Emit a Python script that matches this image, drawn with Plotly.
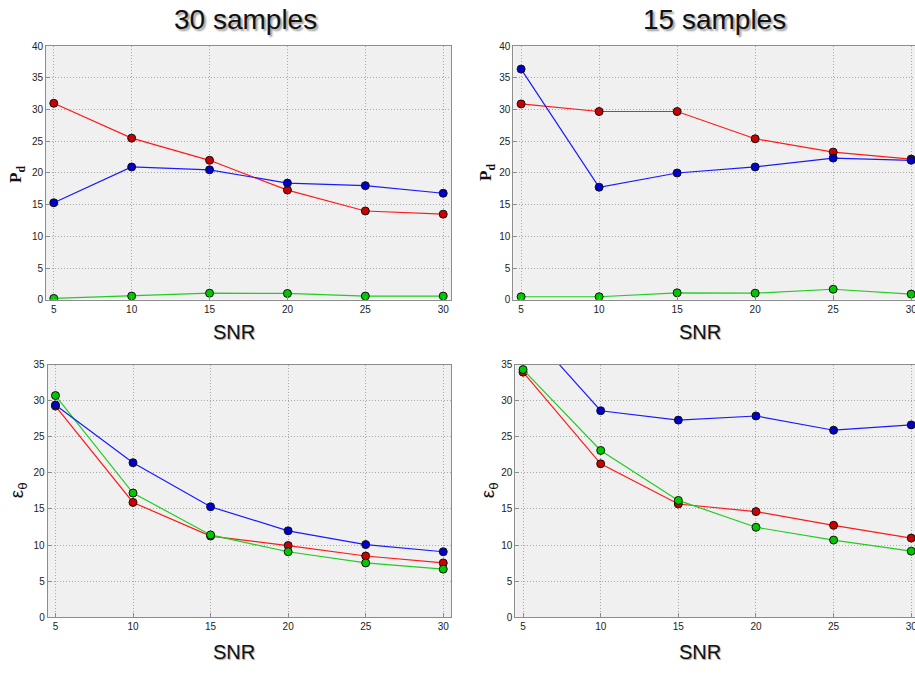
import plotly.graph_objects as go

snr = [5, 10, 15, 20, 25, 30]
x_ticks = [5, 10, 15, 20, 25, 30]

# Pd, 30 samples
pd30_red = [31.0, 25.5, 22.0, 17.3, 14.0, 13.5]
pd30_blue = [15.3, 20.95, 20.5, 18.4, 18.0, 16.8]
pd30_green = [0.2, 0.57, 1.03, 0.98, 0.57, 0.57]
# Pd, 15 samples
pd15_red = [30.9, 29.7, 29.7, 25.4, 23.3, 22.2]
pd15_blue = [36.4, 17.75, 20.0, 20.95, 22.35, 22.0]
pd15_green = [0.46, 0.46, 1.08, 1.03, 1.65, 0.88]
# eps_theta, 30 samples
e30_red = [29.24, 15.9, 11.24, 9.93, 8.48, 7.52]
e30_blue = [29.4, 21.4, 15.3, 11.97, 10.06, 9.07]
e30_green = [30.7, 17.2, 11.4, 9.07, 7.52, 6.66]
# eps_theta, 15 samples
e15_red = [33.94, 21.25, 15.68, 14.63, 12.73, 10.96]
e15_blue = [40.6, 28.6, 27.3, 27.87, 25.9, 26.64]
e15_green = [34.3, 23.1, 16.18, 12.46, 10.69, 9.15]

W, H = 920, 675

def px_x(a, b):
    return [a / W, b / W]

def px_y(top, bottom):
    return [1 - bottom / H, 1 - top / H]

panels = [
    ("x", "y", px_x(46, 451), px_y(41, 299), [0, 40], list(range(0, 41, 5)), pd30_red, pd30_blue, pd30_green),
    ("x2", "y2", px_x(513.3, 919), px_y(41, 299), [0, 40], list(range(0, 41, 5)), pd15_red, pd15_blue, pd15_green),
    ("x3", "y3", px_x(47.7, 451), px_y(365, 622.3), [0, 35], list(range(0, 36, 5)), e30_red, e30_blue, e30_green),
    ("x4", "y4", px_x(515.3, 919), px_y(365, 622.3), [0, 35], list(range(0, 36, 5)), e15_red, e15_blue, e15_green),
]

fig = go.Figure()
styles = [
    ("#ff1a1a", "#cc0000"),
    ("#22cc22", "#00c800"),
    ("#1a1aff", "#0000cc"),
]
for xa, ya, xd, yd, yr, ytv, red, blue, green in panels:
    for series, (lc, mc) in zip([red, green, blue], styles):
        fig.add_trace(go.Scatter(
            x=snr, y=series, xaxis=xa, yaxis=ya, mode="lines+markers",
            line=dict(color=lc, width=1.2),
            marker=dict(size=8, color=mc, line=dict(color="#111111", width=1)),
            showlegend=False,
        ))
    suffix = xa[1:]
    common = dict(showline=True, linecolor="#8c8c8c", linewidth=1, mirror=True,
                  showgrid=True, gridcolor="#a8a8a8", griddash="1px,2px", gridwidth=1,
                  ticks="inside", ticklen=4, tickcolor="#8c8c8c", zeroline=False,
                  tickfont=dict(family="Liberation Sans, Arial", size=10, color="#222222"))
    fig.layout["xaxis" + suffix] = dict(domain=xd, range=[4.5, 30.5], tickvals=x_ticks,
                                       anchor=ya, **common)
    fig.layout["yaxis" + suffix] = dict(domain=yd, range=yr, tickvals=ytv,
                                       anchor=xa, **common)

annotations = []
title_font = dict(family="Liberation Sans, Arial", size=28, color="#111111",
                  shadow="2px 2px 2px #9a9a9a")
for text, xc in [("30 samples", 245), ("15 samples", 714)]:
    annotations.append(dict(text=text, x=xc / W, y=1 - 14 / H, xref="paper", yref="paper",
                            showarrow=False, xanchor="center", yanchor="middle", font=title_font))
snr_font = dict(family="Liberation Sans, Arial", size=20, color="#111111",
                shadow="1px 1px 1px #a0a0a0")
for xc, yc in [(234, 332), (700, 332), (234, 658), (700, 658)]:
    annotations.append(dict(text="SNR", x=xc / W, y=1 - yc / H, xref="paper", yref="paper",
                            showarrow=False, xanchor="center", yanchor="middle", font=snr_font))
for xc, yc in [(17, 172), (487, 170)]:
    annotations.append(dict(text="<b>P</b><sub><b>d</b></sub>", x=xc / W, y=1 - yc / H,
                            xref="paper", yref="paper", showarrow=False, textangle=-90,
                            xanchor="center", yanchor="middle",
                            font=dict(family="Liberation Serif, Times New Roman", size=17, color="#111111")))
for xc, yc in [(18, 493), (489, 493)]:
    annotations.append(dict(text="ε<sub>θ</sub>", x=xc / W, y=1 - yc / H,
                            xref="paper", yref="paper", showarrow=False, textangle=-90,
                            xanchor="center", yanchor="middle",
                            font=dict(family="Liberation Sans, Arial", size=19, color="#111111")))

fig.update_layout(
    width=W, height=H, margin=dict(l=0, r=0, t=0, b=0),
    paper_bgcolor="white", plot_bgcolor="#f0f0f0",
    annotations=annotations, showlegend=False,
)

fig.write_html("out.html", config={"displayModeBar": False}, post_script=(
    "document.body.style.margin='0';"
    "document.body.style.overflow='hidden';"
    "document.documentElement.style.overflow='hidden';"
))
